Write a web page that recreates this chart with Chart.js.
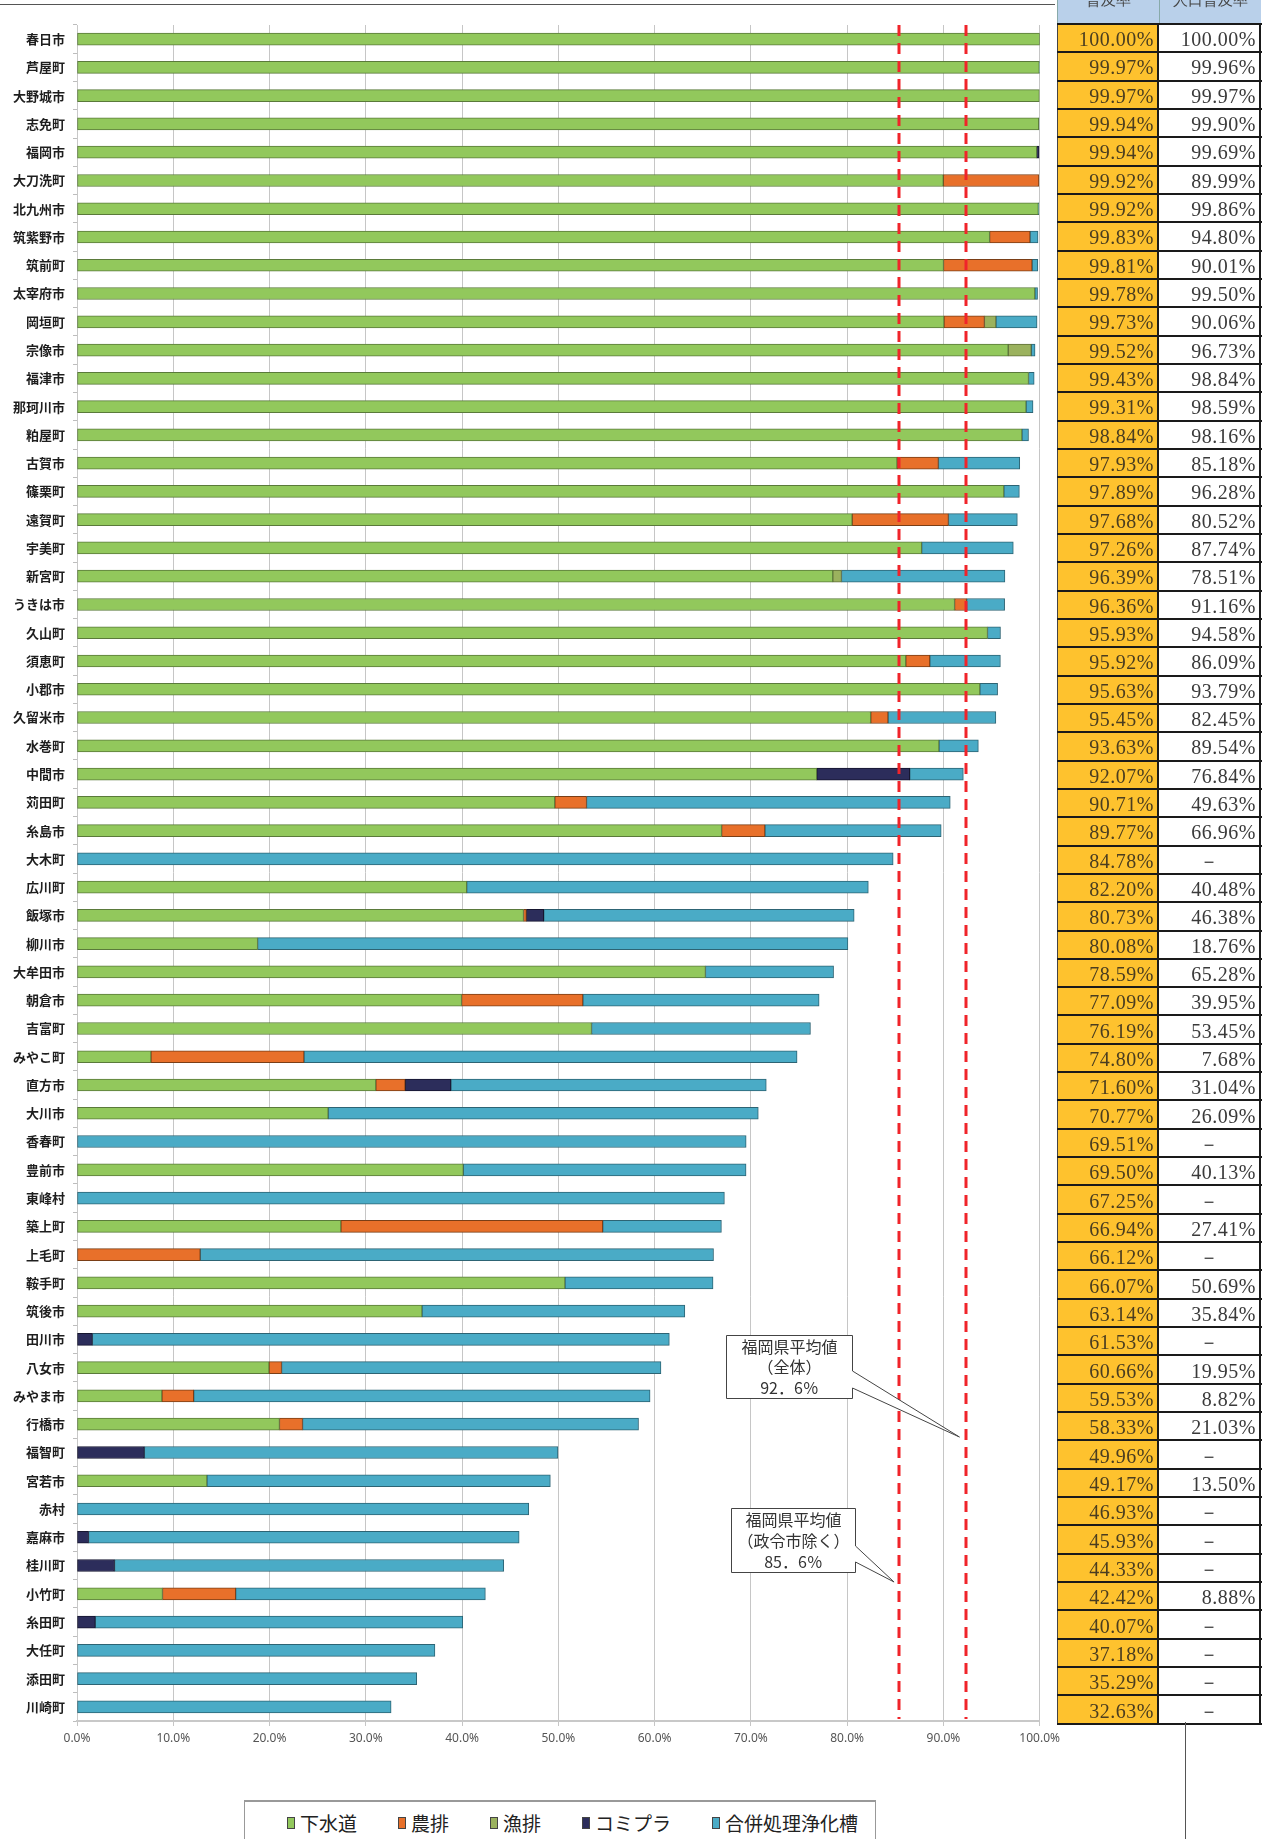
<!DOCTYPE html>
<html lang="ja">
<head>
<meta charset="utf-8">
<title>汚水処理人口普及率（市町村別）</title>
<script src="https://cdn.jsdelivr.net/npm/chart.js@4.4.1/dist/chart.umd.min.js"></script>
<style>
  html, body { margin:0; padding:0; background:#fff; width:1274px; height:1839px; overflow:hidden; font-family:'Noto Sans CJK JP', sans-serif; }
  #wrap { position:relative; width:1274px; height:1839px; overflow:hidden; }
  #chartBox { position:absolute; left:0; top:0; width:1065px; height:1760px; }
  .topline { position:absolute; left:0; top:4px; width:1055px; height:1px; background:#555; }
  .vline { position:absolute; left:1185px; top:1722px; width:1px; height:117px; background:#555; }
  #tbl { position:absolute; left:1057px; top:0; width:205px; }
  .hdr { display:flex; height:25px; box-sizing:border-box; border-bottom:2px solid #1a1a1a; overflow:hidden; }
  .hdr div { width:102px; background:#b9d0ea; position:relative; border-left:1px solid #8aa; box-sizing:border-box; }
  .hdr span { position:absolute; left:0; right:0; top:-9px; text-align:center; font-size:15px; color:#444; font-family:'Liberation Serif', serif; }
  .row { display:flex; height:28.333px; box-sizing:border-box; border-bottom:2px solid #1a1a1a; }
  .row div { width:102px; box-sizing:border-box; font-family:'Liberation Serif', serif; font-size:20px; color:#3a3a3a;
             display:flex; align-items:center; justify-content:flex-end; padding:3px 3px 0 0; letter-spacing:0.5px; }
  .row .c1 { background:#fec22e; border-left:1px solid #444; border-right:2px solid #1a1a1a; color:#4a3d20; }
  .row .c2 { background:#fff; border-right:2px solid #1a1a1a; }
  .row .dash { justify-content:center; padding-right:0; }
  #legend { position:absolute; left:244px; top:1800px; width:632px; height:50px; box-sizing:border-box;
            border:1px solid #999; border-top:2px solid #999; display:flex; align-items:flex-start; padding:10px 0 0 42px; gap:41px; }
  .li { display:flex; align-items:center; gap:5px; font-size:19px; color:#222; line-height:22px; }
  .li i { display:inline-block; width:8px; height:12px; border:1px solid #444; box-sizing:border-box; }
</style>
</head>
<body>
<div id="wrap">
  <div class="topline"></div>
  <div id="chartBox"><canvas id="c"></canvas></div>
  <div id="tbl"></div>
  <div class="vline"></div>
  <div id="legend"></div>
</div>
<script>
// 市町村（普及率の高い順）
const municipalities = ['春日市','芦屋町','大野城市','志免町','福岡市','大刀洗町','北九州市','筑紫野市','筑前町','太宰府市',
  '岡垣町','宗像市','福津市','那珂川市','粕屋町','古賀市','篠栗町','遠賀町','宇美町','新宮町',
  'うきは市','久山町','須恵町','小郡市','久留米市','水巻町','中間市','苅田町','糸島市','大木町',
  '広川町','飯塚市','柳川市','大牟田市','朝倉市','吉富町','みやこ町','直方市','大川市','香春町',
  '豊前市','東峰村','築上町','上毛町','鞍手町','筑後市','田川市','八女市','みやま市','行橋市',
  '福智町','宮若市','赤村','嘉麻市','桂川町','小竹町','糸田町','大任町','添田町','川崎町'];

// 普及率（合計, %）
const fukyuritsu = [100.00,99.97,99.97,99.94,99.94,99.92,99.92,99.83,99.81,99.78,
  99.73,99.52,99.43,99.31,98.84,97.93,97.89,97.68,97.26,96.39,
  96.36,95.93,95.92,95.63,95.45,93.63,92.07,90.71,89.77,84.78,
  82.20,80.73,80.08,78.59,77.09,76.19,74.80,71.60,70.77,69.51,
  69.50,67.25,66.94,66.12,66.07,63.14,61.53,60.66,59.53,58.33,
  49.96,49.17,46.93,45.93,44.33,42.42,40.07,37.18,35.29,32.63];

// 下水道（表の右列、null は「－」）
const gesuido = [100.00,99.96,99.97,99.90,99.69,89.99,99.86,94.80,90.01,99.50,
  90.06,96.73,98.84,98.59,98.16,85.18,96.28,80.52,87.74,78.51,
  91.16,94.58,86.09,93.79,82.45,89.54,76.84,49.63,66.96,null,
  40.48,46.38,18.76,65.28,39.95,53.45,7.68,31.04,26.09,null,
  40.13,null,27.41,null,50.69,35.84,null,19.95,8.82,21.03,
  null,13.50,null,null,null,8.88,null,null,null,null];

// 農業集落排水
const nouhai = [0,0,0,0,0,9.93,0,4.2,9.2,0,
  4.2,0,0,0,0,4.3,0,10.0,0,0,
  1.25,0,2.5,0,1.8,0,0,3.3,4.5,0,
  0,0.3,0,0,12.6,0,15.9,3.05,0,0,
  0,0,27.2,12.8,0,0,0,1.3,3.3,2.4,
  0,0,0,0,0,7.6,0,0,0,0];

// 漁業集落排水
const gyohai = [0,0,0,0,0,0,0,0,0,0,
  1.2,2.4,0,0,0,0,0,0,0,0.9,
  0,0,0,0,0,0,0,0,0,0,
  0,0,0,0,0,0,0,0,0,0,
  0,0,0,0,0,0,0,0,0,0,
  0,0,0,0,0,0,0,0,0,0];

// コミュニティプラント
const komipura = [0,0,0,0,0.25,0,0,0,0,0,
  0,0,0,0,0,0,0,0,0,0,
  0,0,0,0,0,0,9.66,0,0,0,
  0,1.8,0,0,0,0,0,4.75,0,0,
  0,0,0,0,0,0,1.6,0,0,0,
  7.0,0,0,1.2,3.9,0,1.9,0,0,0];

// 合併処理浄化槽
const gappei = [0,0.01,0,0.04,0,0,0.06,0.83,0.60,0.28,
  4.27,0.39,0.59,0.72,0.68,8.45,1.61,7.16,9.52,16.98,
  3.95,1.35,7.33,1.84,11.20,4.09,5.57,37.78,18.31,84.78,
  41.72,32.25,61.32,13.31,24.54,22.74,51.22,32.76,44.68,69.51,
  29.37,67.25,12.33,53.32,15.38,27.30,59.93,39.41,47.41,34.90,
  42.96,35.67,46.93,44.73,40.43,25.94,38.17,37.18,35.29,32.63];

const seriesNames = ['下水道','農排','漁排','コミプラ','合併処理浄化槽'];
const seriesData = [gesuido, nouhai, gyohai, komipura, gappei];
const seriesColors = ['#92c85c','#e8702a','#9bb25e','#2c2d5b','#4aabc6'];
const seriesBorders = ['#5a7a3a','#7a3e16','#5f6e38','#15152e','#2d6474'];

const xTicks = [0,10,20,30,40,50,60,70,80,90,100];
const avgExcl = 85.6;  // 福岡県平均値（政令市除く）
const avgAll = 92.6;   // 福岡県平均値（全体）

const fmtPct = v => v.toFixed(1).replace('.', '．') + '％';

// ---- 右側の表 ----
(function buildTable() {
  let html = `<div class="hdr"><div><span>普及率</span></div><div><span>人口普及率</span></div></div>`;
  municipalities.forEach((m, i) => {
    const s = gesuido[i];
    html += `<div class="row"><div class="c1">${fukyuritsu[i].toFixed(2)}%</div>` +
      (s == null ? `<div class="c2 dash">－</div>` : `<div class="c2">${s.toFixed(2)}%</div>`) + `</div>`;
  });
  document.getElementById('tbl').innerHTML = html;
})();

// ---- 凡例 ----
document.getElementById('legend').innerHTML = seriesNames.map((n, i) =>
  `<div class="li"><i style="background:${seriesColors[i]}"></i><span>${n}</span></div>`).join('');

// ---- 平均線と吹き出し ----
function drawCallout(ctx, box, wedge, tip, lines) {
  const x0 = box.x, y0 = box.y, x1 = box.x + box.w, y1 = box.y + box.h;
  ctx.beginPath();
  ctx.moveTo(x0, y0); ctx.lineTo(x1, y0); ctx.lineTo(x1, wedge[0]);
  ctx.lineTo(tip.x, tip.y); ctx.lineTo(x1, wedge[1]); ctx.lineTo(x1, y1);
  ctx.lineTo(x0, y1); ctx.closePath();
  ctx.fillStyle = '#fff'; ctx.fill();
  ctx.strokeStyle = '#444'; ctx.lineWidth = 1; ctx.stroke();
  ctx.fillStyle = '#333';
  ctx.font = '16px "Noto Sans CJK JP", sans-serif';
  ctx.textAlign = 'center'; ctx.textBaseline = 'middle';
  lines.forEach(([t, y]) => ctx.fillText(t, (x0 + x1) / 2, y));
}

const avgPlugin = {
  id: 'avgLines',
  afterDatasetsDraw(chart) {
    const { ctx, chartArea: a, scales: { x } } = chart;
    ctx.save();
    ctx.strokeStyle = '#f0242a'; ctx.lineWidth = 3; ctx.setLineDash([11, 7]);
    [avgExcl, avgAll].forEach(v => {
      const px = Math.round(x.getPixelForValue(v)) - 2;
      ctx.beginPath(); ctx.moveTo(px, a.top); ctx.lineTo(px, a.bottom - 2); ctx.stroke();
    });
    ctx.setLineDash([]);
    drawCallout(ctx, { x: 726.5, y: 1335.5, w: 126, h: 63 }, [1371, 1388],
      { x: x.getPixelForValue(avgAll) - 9, y: 1437 },
      [['福岡県平均値', 1347], ['（全体）', 1367], [fmtPct(avgAll), 1388]]);
    drawCallout(ctx, { x: 731.5, y: 1508.5, w: 124, h: 64 }, [1546, 1562],
      { x: x.getPixelForValue(avgExcl) - 7, y: 1582 },
      [['福岡県平均値', 1520], ['（政令市除く）', 1541], [fmtPct(avgExcl), 1562]]);
    ctx.restore();
  }
};

new Chart(document.getElementById('c'), {
  type: 'bar',
  data: {
    labels: municipalities,
    datasets: seriesNames.map((n, i) => ({
      label: n,
      data: seriesData[i].map(v => (v ? v : null)),
      backgroundColor: seriesColors[i],
      borderColor: seriesBorders[i],
      borderWidth: 1,
      borderSkipped: false,
      barThickness: 12
    }))
  },
  options: {
    indexAxis: 'y',
    responsive: true,
    maintainAspectRatio: false,
    animation: false,
    layout: { padding: { top: 25, right: 20, left: 0, bottom: 0 } },
    plugins: { legend: { display: false }, tooltip: { enabled: false } },
    scales: {
      x: {
        type: 'linear', stacked: true, min: 0, max: 100,
        afterBuildTicks: s => { s.ticks = xTicks.map(v => ({ value: v })); },
        afterFit: s => { s.height = 39; },
        ticks: { callback: v => v.toFixed(1) + '%', color: '#555', padding: 5,
                 font: { family: "'Liberation Sans Narrow','Noto Sans',sans-serif", size: 12 } },
        grid: { color: '#c6c6c6', tickLength: 5 },
        border: { color: '#c8c8c8', width: 2 }
      },
      y: {
        stacked: true,
        afterFit: s => { s.width = 77; },
        ticks: { color: '#1e1e1e', padding: 8, autoSkip: false,
                 font: { family: "'Noto Sans CJK JP',sans-serif", size: 13, weight: 'bold' } },
        grid: { offset: true, drawOnChartArea: false, tickLength: 4, color: '#bdbdbd' },
        border: { color: '#c8c8c8' }
      }
    }
  },
  plugins: [avgPlugin]
});
</script>
</body>
</html>
